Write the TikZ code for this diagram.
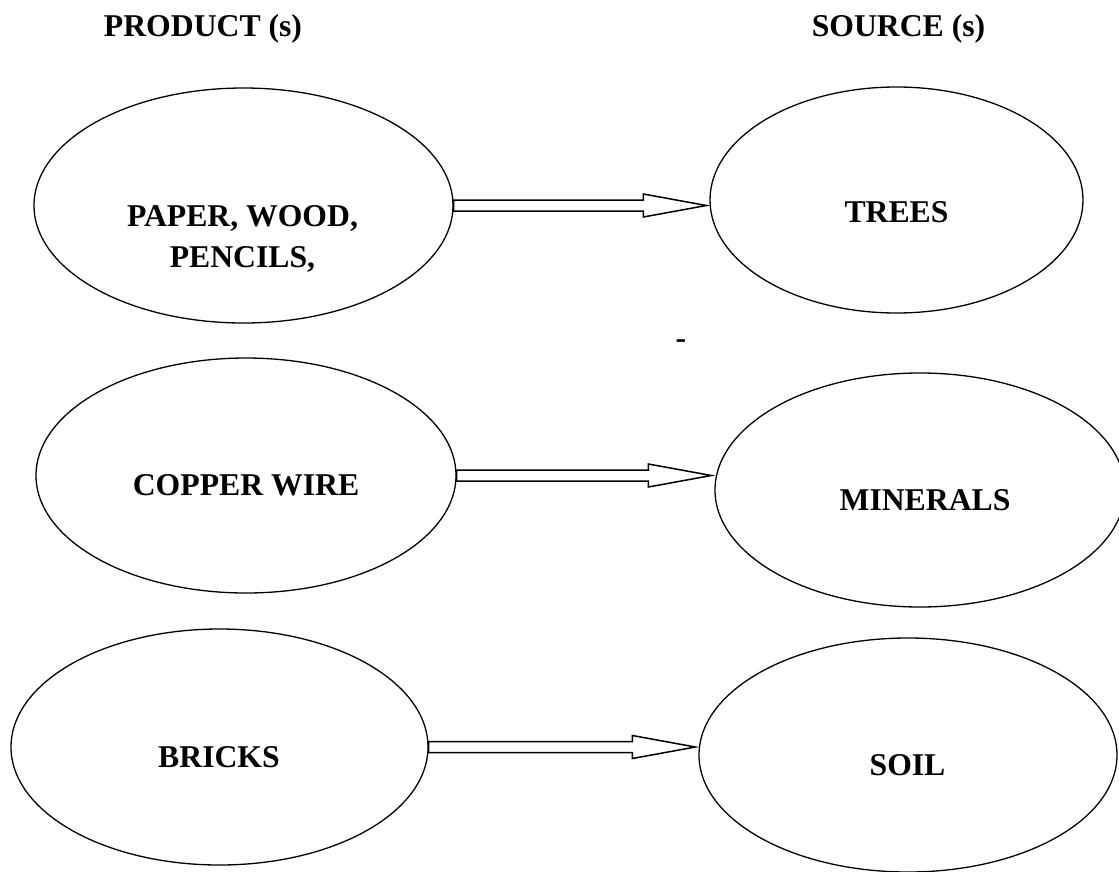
\documentclass[tikz,border=0pt]{standalone}
\usepackage{fontspec}
\setmainfont{Liberation Serif}
\usetikzlibrary{shapes.geometric,calc}
\newcommand\blockarrow[2]{%
  \draw[blk] let \p1=(#1.east), \p2=(#2.west) in
    (\x1,\y1+5.5pt) -- (\x2-66pt,\y1+5.5pt) -- (\x2-66pt,\y1+11.5pt) -- (\x2-3pt,\y1)
    -- (\x2-66pt,\y1-11.5pt) -- (\x2-66pt,\y1-5.5pt) -- (\x1,\y1-5.5pt) -- cycle;}
\begin{document}
\begin{tikzpicture}[x=1pt,y=-1pt,
  oval/.style={ellipse,draw,line width=1.3pt,inner sep=0pt},
  lbl/.style={font=\bfseries\fontsize{31.7}{41}\selectfont,inner sep=0pt},
  blk/.style={draw,line width=1.5pt,fill=white,line join=miter}]
\useasboundingbox (0,0) rectangle (1119,871);
% headers
\node[lbl,anchor=base] (hp) at (203,36) {PRODUCT (s)};
\node[lbl,anchor=base] (hs) at (898.5,36) {SOURCE (s)};
% ellipses
\node[oval,minimum width=419pt,minimum height=235pt] (p1) at (243.5,205.5) {};
\node[oval,minimum width=373pt,minimum height=226pt] (s1) at (896.5,200) {};
\node[oval,minimum width=420pt,minimum height=235pt] (p2) at (246,475.5) {};
\node[oval,minimum width=410pt,minimum height=234pt] (s2) at (920,490) {};
\node[oval,minimum width=417pt,minimum height=236pt] (p3) at (219.5,747) {};
\node[oval,minimum width=418pt,minimum height=234pt] (s3) at (908,755) {};
% texts
\node[lbl,align=center,anchor=center] (t1) at (242.5,239) {PAPER, WOOD,\\PENCILS,};
\node[lbl,anchor=base] (t2) at (896.5,222) {TREES};
\node[lbl,anchor=base] (t3) at (246,495) {COPPER WIRE};
\node[lbl,anchor=base] (t4) at (925,510) {MINERALS};
\node[lbl,anchor=base] (t5) at (219,767) {BRICKS};
\node[lbl,anchor=base] (t6) at (907.5,775) {SOIL};
\node[lbl,anchor=base] (dash) at (681,348) {-};
% arrows
\blockarrow{p1}{s1}
\blockarrow{p2}{s2}
\blockarrow{p3}{s3}
\end{tikzpicture}
\end{document}
